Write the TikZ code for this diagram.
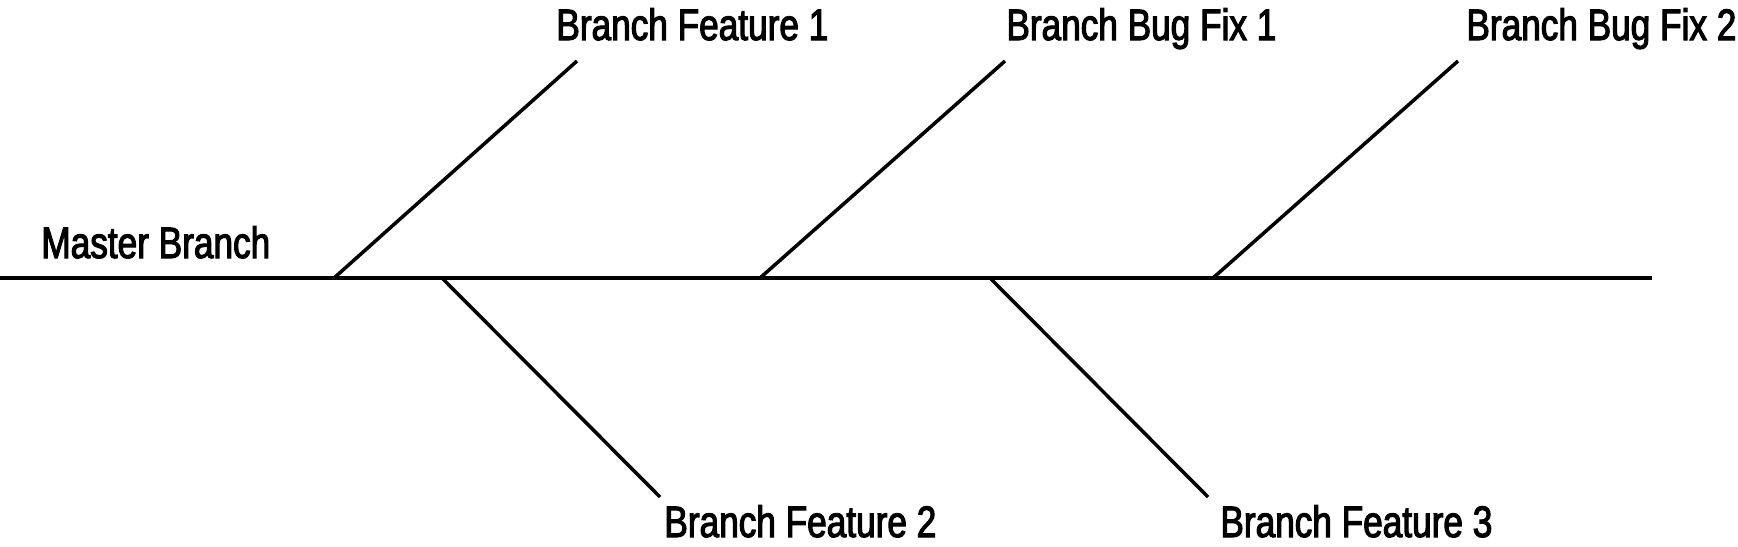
\documentclass[tikz,border=0pt]{standalone}
\usepackage{fontspec}
\setmainfont{Liberation Sans}[FakeStretch=0.8,FakeBold=2.5]
\begin{document}
\begin{tikzpicture}[x=0.5pt,y=-0.5pt,
  lbl/.style={inner sep=0pt,anchor=base west,font=\fontsize{22pt}{26pt}\selectfont},
  mainline/.style={line width=2pt},
  branchline/.style={line width=1.75pt}]
\useasboundingbox (0,0) rectangle (1738,546);
\coordinate (m0) at (0,278);
\coordinate (m1) at (1652,278);
\draw[mainline] (m0) -- (m1);
\node[lbl] (master) at (41,258) {Master Branch};
% upper branches
\coordinate (f1s) at (334,278);  \coordinate (f1e) at (577,61);
\coordinate (b1s) at (760,278);  \coordinate (b1e) at (1005,61);
\coordinate (b2s) at (1213,278); \coordinate (b2e) at (1458,61);
% lower branches
\coordinate (f2s) at (442,278);  \coordinate (f2e) at (660,497);
\coordinate (f3s) at (990,278);  \coordinate (f3e) at (1208,497);
\draw[branchline] (f1s) -- (f1e);
\draw[branchline] (b1s) -- (b1e);
\draw[branchline] (b2s) -- (b2e);
\draw[branchline] (f2s) -- (f2e);
\draw[branchline] (f3s) -- (f3e);
\node[lbl] (tf1) at (556,40) {Branch Feature 1};
\node[lbl] (tb1) at (1006,40) {Branch Bug Fix 1};
\node[lbl] (tb2) at (1466,40) {Branch Bug Fix 2};
\node[lbl] (tf2) at (664,537) {Branch Feature 2};
\node[lbl] (tf3) at (1220,537) {Branch Feature 3};
\end{tikzpicture}
\end{document}
